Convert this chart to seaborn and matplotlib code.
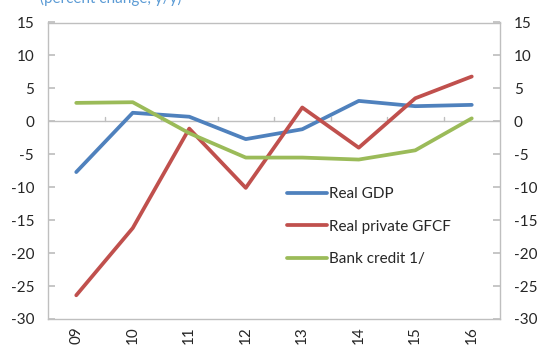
import matplotlib
matplotlib.use("Agg")
import matplotlib.pyplot as plt
import seaborn as sns
import pandas as pd
import numpy as np

years = ["09", "10", "11", "12", "13", "14", "15", "16"]
real_gdp = [-7.7, 1.3, 0.7, -2.7, -1.2, 3.1, 2.3, 2.5]
real_private_gfcf = [-26.4, -16.2, -1.1, -10.1, 2.1, -4.0, 3.5, 6.8]
bank_credit = [2.8, 2.9, -1.8, -5.5, -5.5, -5.8, -4.4, 0.45]
series_names = ["Real GDP", "Real private GFCF", "Bank credit 1/"]
title_text = "(percent change, y/y)"

sns.set_theme(style="white")
plt.rcParams["font.family"] = ["Lato", "DejaVu Sans"]
plt.rcParams["axes.unicode_minus"] = False

df = pd.DataFrame({
    "pos": list(range(len(years))) * 3,
    "value": real_gdp + real_private_gfcf + bank_credit,
    "series": [series_names[0]] * len(years)
              + [series_names[1]] * len(years)
              + [series_names[2]] * len(years),
})

palette = {series_names[0]: "#4F81BD",
           series_names[1]: "#C0504D",
           series_names[2]: "#9BBB59"}

fig = plt.figure(figsize=(5.4, 3.45), dpi=100)
ax = fig.add_axes([48 / 540, 1 - 319 / 345, 452 / 540, (319 - 22.5) / 345])

ax.axhline(0, color="#BFBFBF", lw=1.0, zorder=1)
sns.lineplot(data=df, x="pos", y="value", hue="series", palette=palette,
             linewidth=2.7, ax=ax, legend=True, zorder=3, estimator=None)

ax.set_xlim(-0.5, len(years) - 0.5)
ax.set_ylim(-30, 15)
ax.set_yticks(np.arange(-30, 16, 5))
ax.set_xticks(range(len(years)))
ax.set_xticklabels(years, rotation=90, fontsize=11, color="#262626")
ax.tick_params(axis="x", length=0, pad=5)
ax.tick_params(axis="y", direction="in", length=5, color="#BFBFBF",
               labelsize=11, labelcolor="#262626", pad=10)
ax.set_xlabel("")
ax.set_ylabel("")

# category boundary ticks sitting on the zero line
for b in np.arange(0.5, len(years) - 0.5, 1.0):
    ax.plot([b, b], [0, 0.7], color="#BFBFBF", lw=1.0, zorder=1)

for s in ax.spines.values():
    s.set_color("#BFBFBF")
    s.set_linewidth(1.0)

ax2 = ax.twinx()
ax2.set_ylim(-30, 15)
ax2.set_yticks(np.arange(-30, 16, 5))
ax2.tick_params(axis="y", direction="in", length=5, color="#BFBFBF",
                labelsize=11, labelcolor="#262626", pad=10)
for s in ax2.spines.values():
    s.set_visible(False)

leg = ax.legend(loc="upper left", bbox_to_anchor=(0.515, 0.465), frameon=False,
                fontsize=11, handlelength=2.6, handletextpad=0.15,
                labelspacing=1.2, borderaxespad=0)
for t in leg.get_texts():
    t.set_color("#262626")

fig.text(40 / 540, 1 - 3 / 345, title_text, color="#5B9BD5", fontsize=11,
         ha="left", va="baseline")

fig.savefig("out.png", dpi=100)
